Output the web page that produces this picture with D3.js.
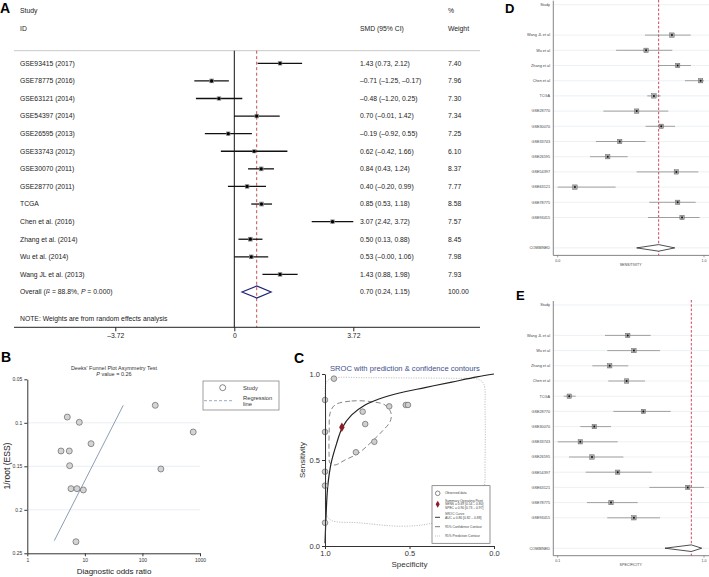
<!DOCTYPE html>
<html>
<head>
<meta charset="utf-8">
<script src="https://cdn.jsdelivr.net/npm/d3@7"></script>
<style>
  body { margin: 0; background: #fff; }
  svg { display: block; font-family: "Liberation Sans", Arial, sans-serif; }
</style>
</head>
<body>
<svg id="fig" width="709" height="577"></svg>
<script>
// A - SMD forest plot
const studyIds = ["GSE93415 (2017)", "GSE78775 (2016)", "GSE63121 (2014)", "GSE54397 (2014)",
  "GSE26595 (2013)", "GSE33743 (2012)", "GSE30070 (2011)", "GSE28770 (2011)", "TCGA",
  "Chen et al. (2016)", "Zhang et al. (2014)", "Wu et al. (2014)", "Wang JL et al. (2013)"];
const smd = [1.43, -0.71, -0.48, 0.70, -0.19, 0.62, 0.84, 0.40, 0.85, 3.07, 0.50, 0.53, 1.43];
const smdLow = [0.73, -1.25, -1.20, -0.01, -0.92, -0.42, 0.43, -0.20, 0.53, 2.42, 0.13, -0.00, 0.88];
const smdHigh = [2.12, -0.17, 0.25, 1.42, 0.55, 1.66, 1.24, 0.99, 1.18, 3.72, 0.88, 1.06, 1.98];
const weights = [7.40, 7.96, 7.30, 7.34, 7.25, 6.10, 8.37, 7.77, 8.58, 7.57, 8.45, 7.98, 7.93];
const overallSmd = [0.70, 0.24, 1.15]; // estimate, low, high
const overallWeight = 100.00;
const smdTicks = [-3.72, 0, 3.72];

// B - Deeks' funnel plot
const deeksDor = [4.95, 8.0, 12.8, 3.85, 5.36, 5.44, 5.74, 7.3, 9.4, 7.0, 167, 762, 209];
const deeksEss = [0.0934, 0.0994, 0.124, 0.1324, 0.1324, 0.1493, 0.1757, 0.1757, 0.1772, 0.2367, 0.0799, 0.1106, 0.1531];
const regDor = [2.94, 46.4];
const regEss = [0.2355, 0.0799];
const deeksYTicks = [0.05, 0.1, 0.15, 0.2, 0.25];
const deeksXTicks = [1, 10, 100, 1000];

// C - SROC
const obsSpec = [0.947, 1.0, 1.0, 1.0, 1.0, 1.0, 0.777, 0.762, 0.620, 0.708, 0.817, 0.522, 0.509];
const obsSens = [0.973, 0.849, 0.663, 0.432, 0.351, 0.135, 0.781, 0.709, 0.812, 0.606, 0.545, 0.820, 0.820];
const summarySpec = 0.90, summarySens = 0.69;
const srocSpec = [1.0, 0.994, 0.984, 0.964, 0.931, 0.898, 0.842, 0.763, 0.685, 0.566, 0.408, 0.25, 0.1, 0.0];
const srocSens = [0.016, 0.170, 0.345, 0.481, 0.597, 0.688, 0.762, 0.820, 0.853, 0.888, 0.921, 0.953, 0.983, 1.0];
const confSpec = [0.941, 0.842, 0.724, 0.645, 0.609, 0.615, 0.655, 0.724, 0.803, 0.882, 0.941, 0.970, 0.976, 0.975, 0.970];
const confSens = [0.820, 0.843, 0.839, 0.820, 0.772, 0.723, 0.674, 0.606, 0.539, 0.500, 0.471, 0.481, 0.539, 0.674, 0.772];
const predSpec = [0.99, 0.95, 0.75, 0.5, 0.25, 0.09, 0.06, 0.053, 0.053, 0.06, 0.1, 0.2, 0.38, 0.55, 0.8, 0.96, 0.99, 0.995, 0.995];
const predSens = [0.955, 0.976, 0.978, 0.977, 0.975, 0.968, 0.94, 0.8, 0.5, 0.33, 0.25, 0.19, 0.13, 0.115, 0.135, 0.148, 0.18, 0.4, 0.75];
const srocTicks = [0, 0.5, 1];

// D / E - sensitivity and specificity forests
const pooledNames = ["Wang JL et al", "Wu et al", "Zhang et al", "Chen et al", "TCGA", "GSE28770",
  "GSE30070", "GSE33743", "GSE26595", "GSE54397", "GSE63121", "GSE78775", "GSE93415"];
const sensEst = [0.781, 0.604, 0.820, 0.977, 0.658, 0.540, 0.708, 0.424, 0.342, 0.811, 0.118, 0.820, 0.850];
const sensLow = [0.597, 0.399, 0.688, 0.870, 0.612, 0.312, 0.601, 0.262, 0.221, 0.540, 0.000, 0.626, 0.617];
const sensHigh = [0.909, 0.783, 0.911, 1.000, 0.704, 0.756, 0.802, 0.601, 0.478, 0.961, 0.396, 0.943, 0.970];
const sensPooled = [0.69, 0.54, 0.80];
const sensTicks = [0, 1];
const sensTickLabels = ["0.0", "1.0"];
const specEst = [0.531, 0.569, 0.420, 0.524, 0.171, 0.627, 0.325, 0.239, 0.311, 0.469, 0.900, 0.428, 0.569];
const specLow = [0.391, 0.405, 0.313, 0.411, 0.137, 0.442, 0.239, 0.100, 0.170, 0.272, 0.664, 0.280, 0.405];
const specHigh = [0.672, 0.729, 0.534, 0.637, 0.211, 0.795, 0.428, 0.469, 0.504, 0.678, 1.000, 0.592, 0.729];
const specPooled = [0.922, 0.760, 0.986];
const specTicks = [0.1, 1];
const specTickLabels = ["0.1", "1.0"];

const svg = d3.select("#fig");

const dash = v => (v < 0 || Object.is(v, -0) ? "\u2013" : "") + Math.abs(v).toFixed(2);

const panelLabel = (txt, x, y, size = 14) => svg.append("text")
  .attr("x", x).attr("y", y)
  .attr("font-size", size).attr("font-weight", "bold")
  .text(txt);

const styleAxis = (g, size, col) => {
  g.attr("font-size", size).attr("font-family", null);
  g.selectAll("path, line").attr("stroke", col);
  g.selectAll("text").attr("fill", col);
};

// ---------- A
const gA = svg.append("g").attr("font-size", 6.8).attr("fill", "#222");
const xA = d3.scaleLinear().domain([-3.72, 3.72]).range([115.3, 353.3]);
const yA = d3.scaleLinear().domain([0, 13]).range([63.3, 292]);
const axisYA = 327.3;

const headText = (txt, x, y) => gA.append("text").attr("x", x).attr("y", y).attr("dy", "0.35em").text(txt);
headText("Study", 20, 10.7);
headText("ID", 20, 28.3);
headText("%", 448, 10.7);
headText("SMD (95% CI)", 360, 28.3);
headText("Weight", 448, 28.3);

gA.append("line").attr("x1", 14).attr("x2", 480).attr("y1", 50.7).attr("y2", 50.7)
  .attr("stroke", "#c8c8c8");
gA.append("line").attr("x1", xA(0)).attr("x2", xA(0)).attr("y1", 50.7).attr("y2", axisYA)
  .attr("stroke", "#111");
gA.append("line").attr("x1", xA(overallSmd[0])).attr("x2", xA(overallSmd[0]))
  .attr("y1", 50.7).attr("y2", axisYA)
  .attr("stroke", "#c0504d").attr("stroke-dasharray", "3,2.5");

const boxSize = d3.scaleSqrt().domain([0, 10]).range([0, 5]);

const rows = gA.selectAll("g.study")
  .data(studyIds)
  .enter()
  .append("g")
  .attr("class", "study")
  .attr("transform", (d, i) => `translate(0,${yA(i)})`);

rows.append("line")
  .attr("x1", (d, i) => xA(smdLow[i]))
  .attr("x2", (d, i) => xA(smdHigh[i]))
  .attr("stroke", "#111").attr("stroke-width", 1.3);
rows.append("rect")
  .attr("x", (d, i) => xA(smd[i]) - boxSize(weights[i]) / 2)
  .attr("y", (d, i) => -boxSize(weights[i]) / 2)
  .attr("width", (d, i) => boxSize(weights[i]))
  .attr("height", (d, i) => boxSize(weights[i]))
  .attr("fill", "#888");
rows.append("circle")
  .attr("cx", (d, i) => xA(smd[i]))
  .attr("r", 1.6)
  .attr("fill", "#000");
rows.append("text").attr("x", 20).attr("dy", "0.35em").text(d => d);
rows.append("text").attr("x", 360).attr("dy", "0.35em")
  .text((d, i) => `${dash(smd[i])} (${dash(smdLow[i])}, ${dash(smdHigh[i])})`);
rows.append("text").attr("x", 448).attr("dy", "0.35em").text((d, i) => weights[i].toFixed(2));

// overall
const yO = yA(13);
gA.append("path")
  .attr("d", `M${xA(overallSmd[1])},${yO} L${xA(overallSmd[0])},${yO - 6} L${xA(overallSmd[2])},${yO} L${xA(overallSmd[0])},${yO + 6} Z`)
  .attr("fill", "none").attr("stroke", "#1f2278").attr("stroke-width", 1.2);
const ov = gA.append("text").attr("x", 20).attr("y", yO).attr("dy", "0.35em");
ov.append("tspan").text("Overall  (");
ov.append("tspan").attr("font-style", "italic").text("I");
ov.append("tspan").attr("font-size", 4.5).attr("dy", "-0.25em").text("2");
ov.append("tspan").attr("dy", "0.17em").text(" = 88.8%, ");
ov.append("tspan").attr("font-style", "italic").text("P");
ov.append("tspan").text(" = 0.000)");
gA.append("text").attr("x", 360).attr("y", yO).attr("dy", "0.35em")
  .text(`${dash(overallSmd[0])} (${dash(overallSmd[1])}, ${dash(overallSmd[2])})`);
gA.append("text").attr("x", 448).attr("y", yO).attr("dy", "0.35em").text(overallWeight.toFixed(2));

gA.append("text").attr("x", 20).attr("y", yA(14.5)).attr("dy", "0.35em")
  .text("NOTE: Weights are from random effects analysis");

const axA = gA.append("g")
  .attr("transform", `translate(0,${axisYA})`)
  .call(d3.axisBottom(xA).tickValues(smdTicks).tickFormat(d => d === 0 ? "0" : dash(d)).tickSize(4).tickPadding(2));
axA.select(".domain").remove();
styleAxis(axA, 6.8, "#222");
gA.append("line").attr("x1", 14).attr("x2", 480).attr("y1", axisYA).attr("y2", axisYA)
  .attr("stroke", "#222");

panelLabel("A", 0, 13);

// ---------- B
const gB = svg.append("g");
const xB = d3.scaleLog().domain([1, 1000]).range([27.3, 200]);
const yB = d3.scaleLinear().domain([0.05, 0.25]).range([379.3, 553.3]);

gB.selectAll("line.grid")
  .data(deeksYTicks.slice(1, -1))
  .enter()
  .append("line")
  .attr("x1", xB(1)).attr("x2", xB(1000))
  .attr("y1", d => yB(d)).attr("y2", d => yB(d))
  .attr("stroke", "#e3ebf1").attr("stroke-width", 0.8);

const axBy = gB.append("g").attr("transform", `translate(${xB(1)},0)`)
  .call(d3.axisLeft(yB).tickValues(deeksYTicks).tickFormat(d3.format(".2~f")).tickSize(3).tickSizeOuter(0).tickPadding(2));
styleAxis(axBy, 5, "#333");
const axBx = gB.append("g").attr("transform", `translate(0,${yB(0.25)})`)
  .call(d3.axisBottom(xB).tickValues(deeksXTicks).tickFormat(d3.format("d")).tickSize(3).tickSizeOuter(0).tickPadding(2));
styleAxis(axBx, 5, "#333");

gB.append("path")
  .datum(regDor.map((d, i) => [d, regEss[i]]))
  .attr("d", d3.line().x(d => xB(d[0])).y(d => yB(d[1])))
  .attr("stroke", "#7f93ad").attr("stroke-width", 0.9).attr("fill", "none");

gB.selectAll("circle.study")
  .data(deeksDor)
  .enter()
  .append("circle")
  .attr("cx", d => xB(d))
  .attr("cy", (d, i) => yB(deeksEss[i]))
  .attr("r", 3)
  .attr("fill", "#d4d4d4").attr("stroke", "#666").attr("stroke-width", 0.7);

gB.append("text").attr("x", 114).attr("y", 367.7).attr("dy", "0.35em")
  .attr("text-anchor", "middle").attr("font-size", 5.5).attr("fill", "#333")
  .text("Deeks' Funnel Plot Asymmetry Test");
const pv = gB.append("text").attr("x", 114).attr("y", 373.7).attr("dy", "0.35em")
  .attr("text-anchor", "middle").attr("font-size", 5.5).attr("fill", "#333");
pv.append("tspan").attr("font-style", "italic").text("P");
pv.append("tspan").text(" value  =   0.26");

gB.append("text").attr("x", 114).attr("y", 571.5).attr("dy", "0.35em")
  .attr("text-anchor", "middle").attr("font-size", 8).attr("fill", "#222")
  .text("Diagnostic odds ratio");
gB.append("text").attr("transform", "translate(7,466) rotate(-90)").attr("dy", "0.35em")
  .attr("text-anchor", "middle").attr("font-size", 8.5).attr("fill", "#222")
  .text("1/root (ESS)");

// legend
const lgB = gB.append("g");
lgB.append("rect").attr("x", 203).attr("y", 381).attr("width", 76).attr("height", 29)
  .attr("fill", "#fff").attr("stroke", "#777").attr("stroke-width", 0.7);
lgB.append("circle").attr("cx", 222.7).attr("cy", 387.7).attr("r", 3)
  .attr("fill", "#fff").attr("stroke", "#555").attr("stroke-width", 0.7);
lgB.append("line").attr("x1", 204).attr("x2", 233).attr("y1", 400.7).attr("y2", 400.7)
  .attr("stroke", "#7f93ad").attr("stroke-width", 0.8).attr("stroke-dasharray", "3,2");
lgB.append("text").attr("x", 243).attr("y", 387.7).attr("dy", "0.35em").attr("font-size", 5.8).attr("fill", "#333").text("Study");
lgB.append("text").attr("x", 243).attr("y", 398).attr("dy", "0.35em").attr("font-size", 5.8).attr("fill", "#333").text("Regression");
lgB.append("text").attr("x", 243).attr("y", 403.5).attr("dy", "0.35em").attr("font-size", 5.8).attr("fill", "#333").text("line");

panelLabel("B", 1, 362);

// ---------- C
const gC = svg.append("g");
const xC = d3.scaleLinear().domain([1, 0]).range([325, 494]);
const yC = d3.scaleLinear().domain([0, 1]).range([546, 374]);
const pairs = (a, b) => a.map((d, i) => [d, b[i]]);
const lineC = d3.line().x(d => xC(d[0])).y(d => yC(d[1]));

gC.append("path")
  .datum(pairs(predSpec, predSens))
  .attr("d", lineC.curve(d3.curveCatmullRomClosed))
  .attr("fill", "none").attr("stroke", "#b8b8b8").attr("stroke-width", 0.9).attr("stroke-dasharray", "1.2,1.3");
gC.append("path")
  .datum(pairs(confSpec, confSens))
  .attr("d", lineC.curve(d3.curveCatmullRomClosed))
  .attr("fill", "none").attr("stroke", "#777").attr("stroke-width", 0.9).attr("stroke-dasharray", "5,3");
gC.append("path")
  .datum(pairs(srocSpec, srocSens))
  .attr("d", lineC.curve(d3.curveCatmullRom))
  .attr("fill", "none").attr("stroke", "#222").attr("stroke-width", 1.2);

gC.selectAll("circle.obs")
  .data(obsSpec)
  .enter()
  .append("circle")
  .attr("cx", d => xC(d))
  .attr("cy", (d, i) => yC(obsSens[i]))
  .attr("r", 2.8)
  .attr("fill", "#cfcfcf").attr("stroke", "#666").attr("stroke-width", 0.7);

gC.append("path")
  .attr("d", d3.symbol(d3.symbolDiamond, 26))
  .attr("transform", `translate(${xC(summarySpec)},${yC(summarySens)})`)
  .attr("fill", "#8b1c24");

const axCy = gC.append("g").attr("transform", `translate(${xC(1)},0)`)
  .call(d3.axisLeft(yC).tickValues(srocTicks).tickFormat(d3.format(".1f")).tickSize(3).tickSizeOuter(0).tickPadding(2));
styleAxis(axCy, 7.5, "#333");
const axCx = gC.append("g").attr("transform", `translate(0,${yC(0)})`)
  .call(d3.axisBottom(xC).tickValues(srocTicks).tickFormat(d3.format(".1f")).tickSize(3).tickSizeOuter(0).tickPadding(2));
styleAxis(axCx, 7.5, "#333");

gC.append("text").attr("x", 330).attr("y", 368).attr("dy", "0.35em")
  .attr("font-size", 7.6).attr("fill", "#3e4f8c")
  .text("SROC with prediction & confidence contours");
gC.append("text").attr("x", 409.5).attr("y", 564.5).attr("dy", "0.35em")
  .attr("text-anchor", "middle").attr("font-size", 8).attr("fill", "#333")
  .text("Specificity");
gC.append("text").attr("transform", "translate(302,460) rotate(-90)").attr("dy", "0.35em")
  .attr("text-anchor", "middle").attr("font-size", 8).attr("fill", "#333")
  .text("Sensitivity");

// legend
const lgC = gC.append("g").attr("font-size", 3.3).attr("fill", "#444");
lgC.append("rect").attr("x", 432).attr("y", 485.7).attr("width", 58).attr("height", 57.6)
  .attr("fill", "#fff").attr("stroke", "#666").attr("stroke-width", 0.7);
lgC.append("circle").attr("cx", 437.7).attr("cy", 493.3).attr("r", 2.3)
  .attr("fill", "#fff").attr("stroke", "#555").attr("stroke-width", 0.7);
lgC.append("path").attr("d", d3.symbol(d3.symbolDiamond, 14))
  .attr("transform", "translate(437.7,504.3)").attr("fill", "#8b1c24");
lgC.append("line").attr("x1", 435).attr("x2", 440).attr("y1", 517.3).attr("y2", 517.3).attr("stroke", "#222").attr("stroke-width", 0.9);
lgC.append("line").attr("x1", 435).attr("x2", 440).attr("y1", 526.7).attr("y2", 526.7).attr("stroke", "#555").attr("stroke-width", 0.8);
lgC.append("line").attr("x1", 435).attr("x2", 440).attr("y1", 536).attr("y2", 536)
  .attr("stroke", "#aaa").attr("stroke-width", 0.7).attr("stroke-dasharray", "1,1");
const lgCText = [
  ["Observed data", 493.3],
  ["Summary Operating Point", 501],
  ["SENS = 0.69 [0.54 \u2013 0.80]", 504.2],
  ["SPEC = 0.90 [0.73 \u2013 0.97]", 507.4],
  ["SROC Curve", 514.3],
  ["AUC = 0.86 [0.82 \u2013 0.88]", 517.8],
  ["95% Confidence Contour", 526.7],
  ["95% Prediction Contour", 536]
];
lgC.selectAll("text")
  .data(lgCText)
  .enter()
  .append("text")
  .attr("x", 445).attr("y", d => d[1]).attr("dy", "0.35em")
  .text(d => d[0]);

panelLabel("C", 294, 363);

// ---------- D / E
const drawPooled = (top, est, low, high, pooled, ticks, tickLabels, title) => {
  const g = svg.append("g");
  const x = d3.scaleLinear().domain(ticks).range([557.7, 704]);
  const rowY = i => top + 30.4 + i * 15.2;
  const combY = rowY(pooledNames.length + 1);
  const axisY = combY + 7.5;

  const gridYs = [top].concat(pooledNames.map((d, i) => rowY(i)), [combY]);
  g.selectAll("line.grid")
    .data(gridYs)
    .enter()
    .append("line")
    .attr("x1", 553.3).attr("x2", 709)
    .attr("y1", d => d).attr("y2", d => d)
    .attr("stroke", "#e4ebf1").attr("stroke-width", 0.7);

  g.append("line").attr("x1", 553.3).attr("x2", 553.3).attr("y1", Math.max(0, top - 4)).attr("y2", axisY)
    .attr("stroke", "#666").attr("stroke-width", 0.8);
  g.append("line").attr("x1", 553.3).attr("x2", 709).attr("y1", axisY).attr("y2", axisY)
    .attr("stroke", "#666").attr("stroke-width", 0.8);
  g.append("line").attr("x1", x(pooled[0])).attr("x2", x(pooled[0]))
    .attr("y1", Math.max(0, top - 5)).attr("y2", axisY)
    .attr("stroke", "#c8324e").attr("stroke-width", 0.9).attr("stroke-dasharray", "2.5,1.8");

  g.selectAll("line.tick")
    .data(ticks)
    .enter()
    .append("line")
    .attr("x1", d => x(d)).attr("x2", d => x(d))
    .attr("y1", axisY).attr("y2", axisY + 2)
    .attr("stroke", "#666").attr("stroke-width", 0.6);
  g.selectAll("text.tick")
    .data(ticks)
    .enter()
    .append("text")
    .attr("x", d => x(d)).attr("y", axisY + 5.5).attr("dy", "0.35em")
    .attr("text-anchor", "middle").attr("font-size", 3.6).attr("fill", "#444")
    .text((d, i) => tickLabels[i]);
  g.append("text").attr("x", 630.7).attr("y", axisY + 9.5).attr("dy", "0.35em")
    .attr("text-anchor", "middle").attr("font-size", 3.6).attr("fill", "#444")
    .text(title);

  g.append("text").attr("x", 550).attr("y", top).attr("dy", "0.35em")
    .attr("text-anchor", "end").attr("font-size", 3.8).attr("fill", "#444").text("Study");

  const r = g.selectAll("g.row")
    .data(pooledNames)
    .enter()
    .append("g")
    .attr("transform", (d, i) => `translate(0,${rowY(i)})`);
  r.append("text").attr("x", 550).attr("dy", "0.35em")
    .attr("text-anchor", "end").attr("font-size", 3.8).attr("fill", "#444")
    .text(d => d);
  r.append("line")
    .attr("x1", (d, i) => x(low[i])).attr("x2", (d, i) => x(high[i]))
    .attr("stroke", "#8a8a8a").attr("stroke-width", 0.8);
  r.append("rect")
    .attr("x", (d, i) => x(est[i]) - 2.2).attr("y", -2.2)
    .attr("width", 4.4).attr("height", 4.4)
    .attr("fill", "#a8a8a8").attr("stroke", "#555").attr("stroke-width", 0.4);
  r.append("circle")
    .attr("cx", (d, i) => x(est[i])).attr("r", 1)
    .attr("fill", "#111");

  g.append("text").attr("x", 550).attr("y", combY).attr("dy", "0.35em")
    .attr("text-anchor", "end").attr("font-size", 3.8).attr("fill", "#444").text("COMBINED");
  g.append("path")
    .attr("d", `M${x(pooled[1])},${combY} L${x(pooled[0])},${combY - 3.3} L${x(pooled[2])},${combY} L${x(pooled[0])},${combY + 3.3} Z`)
    .attr("fill", "#fff").attr("stroke", "#222").attr("stroke-width", 0.8);
};

drawPooled(4.7, sensEst, sensLow, sensHigh, sensPooled, sensTicks, sensTickLabels, "SENSITIVITY");
drawPooled(305, specEst, specLow, specHigh, specPooled, specTicks, specTickLabels, "SPECIFICITY");

panelLabel("D", 505, 12.5, 13);
panelLabel("E", 516, 300, 13);
</script>
</body>
</html>
